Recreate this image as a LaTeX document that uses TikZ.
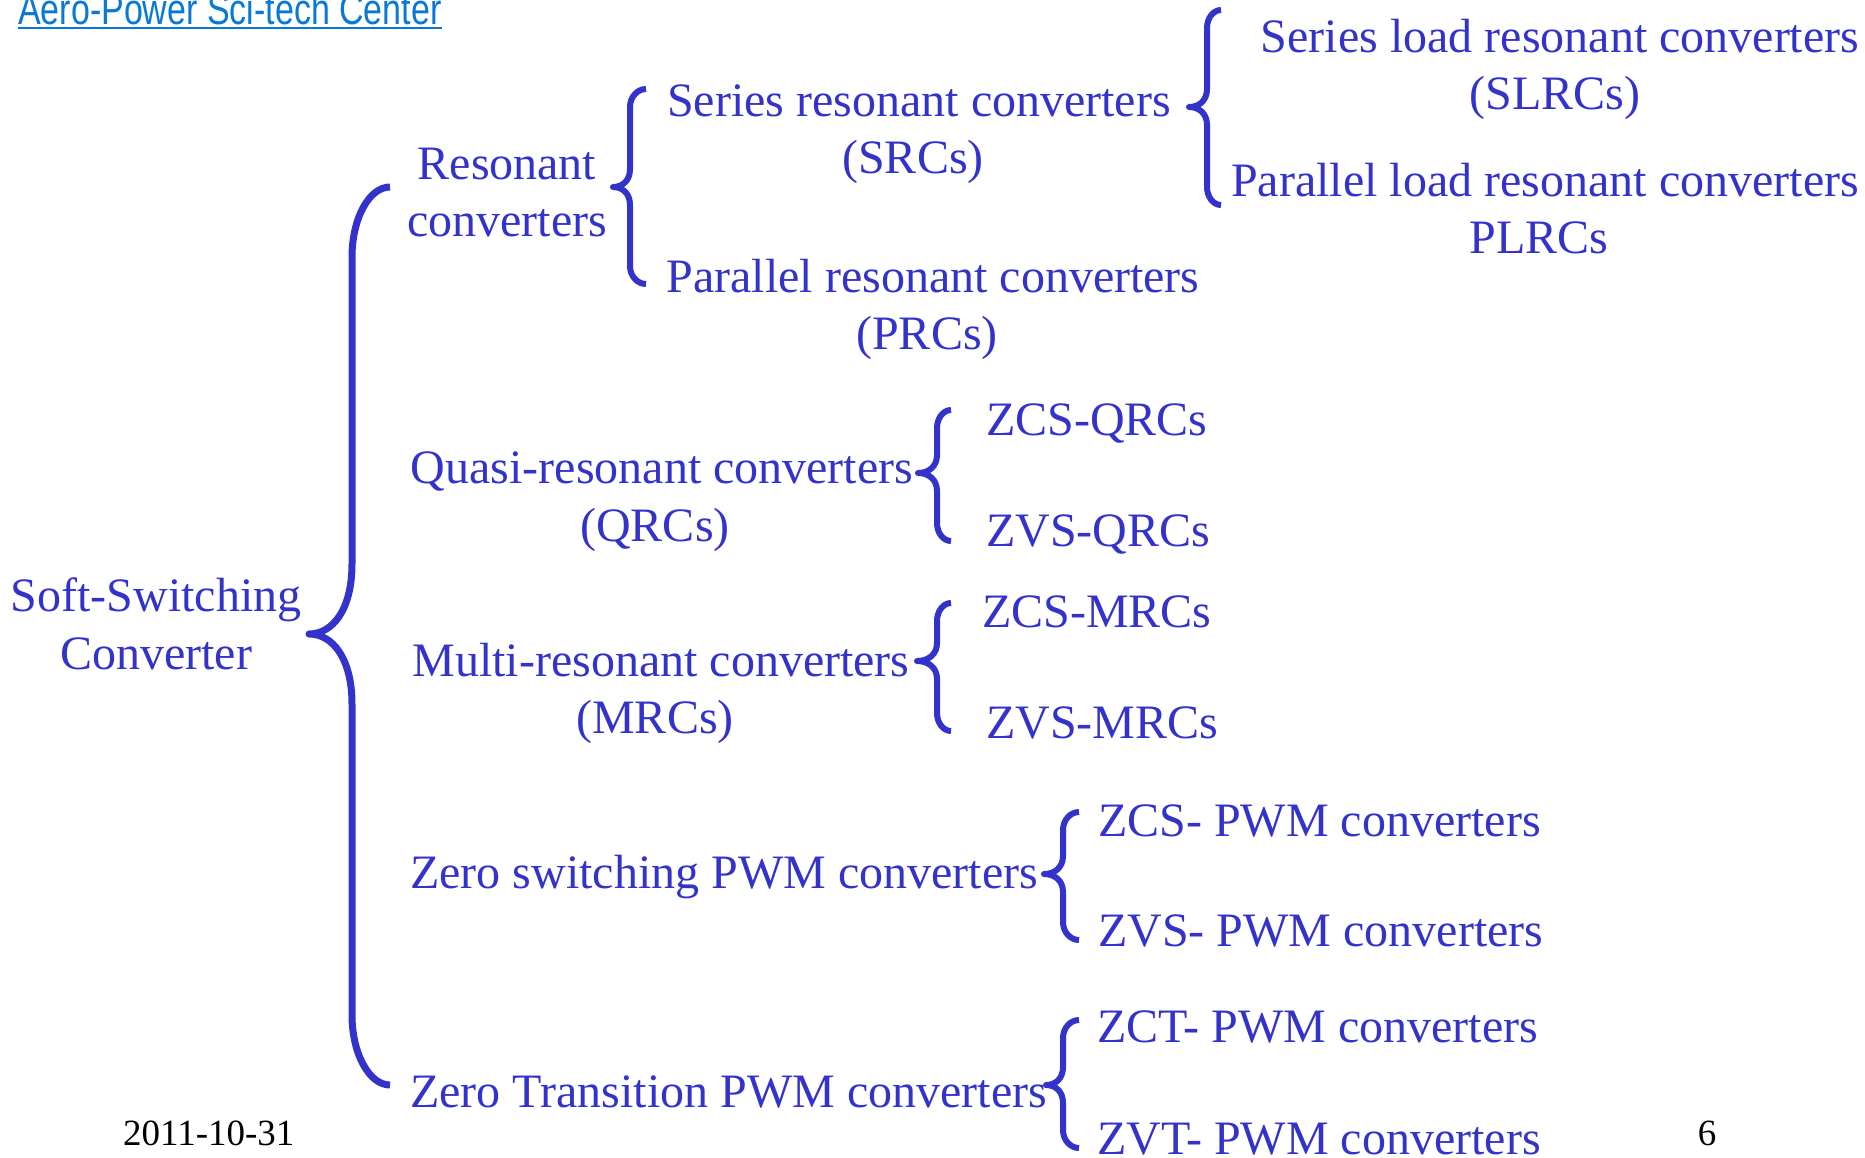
\documentclass[tikz,border=0pt]{standalone}
\usepackage{graphicx}
\usepackage{fontspec}
\setmainfont{Liberation Serif}
\newfontfamily\hdrfont{Liberation Sans}
\definecolor{treeblue}{RGB}{51,51,204}
\definecolor{hdrblue}{RGB}{10,120,215}

% #2 end x, #3 spine x, #4 tip x, #5 top y, #6 tip y, #7 bottom y, #8 end radius, #9 tip radius
\newcommand{\curlybrace}[9][]{%
  \draw[brace,#1] (#2,#5)
    .. controls ({#3+0.45*(#2-#3)},#5) and (#3,{#5+0.45*#8}) .. (#3,{#5+#8})
    -- (#3,{#6-#9})
    .. controls (#3,{#6-0.35*#9}) and ({#3-0.45*(#3-#4)},#6) .. (#4,#6)
    .. controls ({#3-0.45*(#3-#4)},#6) and (#3,{#6+0.35*#9}) .. (#3,{#6+#9})
    -- (#3,{#7-#8})
    .. controls (#3,{#7-0.45*#8}) and ({#3+0.45*(#2-#3)},#7) .. (#2,#7);}

\tikzset{
  lbl/.style={inner sep=0pt, text=treeblue, font=\fontsize{48}{57}\selectfont, anchor=base},
  leaf/.style={lbl, anchor=base west},
  brace/.style={draw=treeblue, line width=6pt, line join=round},
  foot/.style={inner sep=0pt, text=black, font=\fontsize{37}{44}\selectfont, anchor=base},
}

\begin{document}
\begin{tikzpicture}[x=1pt,y=-1pt]
  \fill[white] (0,0) rectangle (1865,1157);
  \useasboundingbox (0,0) rectangle (1865,1157);

  % header link
  \node[inner sep=0pt, anchor=base west, text=hdrblue, font=\hdrfont\fontsize{34}{40}\selectfont] (hdr) at (18,24) {\scalebox{1}[1.28]{Aero-Power Sci-tech Center}};
  \draw[hdrblue, line width=2.5pt] ([yshift=-4pt]hdr.base west) -- ([yshift=-4pt]hdr.base east);

  % root
  \node[lbl] (soft1) at (156,611) {Soft-Switching};
  \node[lbl] (soft2) at (156,669) {Converter};
  \curlybrace[line width=7pt]{390}{352}{309}{187}{634}{1085}{70}{70}

  % resonant converters
  \node[lbl] (res1) at (507,179) {Resonant};
  \node[lbl] (res2) at (507,236) {converters};
  \curlybrace{646}{630}{613}{89}{187}{284}{18}{18}
  \node[lbl] (src1) at (919,116) {Series resonant converters};
  \node[lbl] (src2) at (913,173) {(SRCs)};
  \node[lbl] (prc1) at (933,292) {Parallel resonant converters};
  \node[lbl] (prc2) at (927,349) {(PRCs)};
  \curlybrace{1221}{1207}{1189}{10}{107}{205}{18}{18}
  \node[lbl] (slrc1) at (1560,52) {Series load resonant converters};
  \node[lbl] (slrc2) at (1555,109) {(SLRCs)};
  \node[lbl] (plrc1) at (1545,196) {Parallel load resonant converters};
  \node[lbl] (plrc2) at (1539,253) {PLRCs};

  % quasi-resonant converters
  \node[lbl] (qrc1) at (662,483) {Quasi-resonant converters};
  \node[lbl] (qrc2) at (655,541) {(QRCs)};
  \curlybrace{951}{937}{918}{410}{473}{541}{18}{18}
  \node[leaf] (zcsq) at (986,435) {ZCS-QRCs};
  \node[leaf] (zvsq) at (986,546) {ZVS-QRCs};

  % multi-resonant converters
  \node[lbl] (mrc1) at (661,676) {Multi-resonant converters};
  \node[lbl] (mrc2) at (655,733) {(MRCs)};
  \curlybrace{951}{937}{917}{603}{661}{731}{18}{18}
  \node[leaf] (zcsm) at (982,627) {ZCS-MRCs};
  \node[leaf] (zvsm) at (986,738) {ZVS-MRCs};

  % zero switching PWM converters
  \node[leaf] (zsw) at (410,888) {Zero switching PWM converters};
  \curlybrace{1079}{1063}{1044}{812}{874}{940}{18}{18}
  \node[leaf] (zcsp) at (1098,836) {ZCS- PWM converters};
  \node[leaf] (zvsp) at (1098,946) {ZVS- PWM converters};

  % zero transition PWM converters
  \node[leaf] (ztr) at (410,1107) {Zero Transition PWM converters};
  \curlybrace{1079}{1063}{1046}{1020}{1085}{1148}{18}{18}
  \node[leaf] (zctp) at (1097,1042) {ZCT- PWM converters};
  \node[leaf] (zvtp) at (1097,1154) {ZVT- PWM converters};

  % footer
  \node[foot, anchor=base west] (date) at (123,1145) {2011-10-31};
  \node[foot] (page) at (1707,1145) {6};
\end{tikzpicture}
\end{document}
